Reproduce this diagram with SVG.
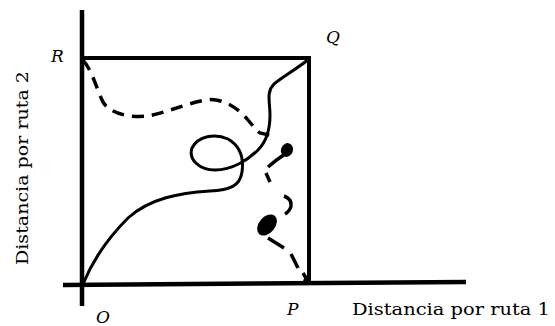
<svg xmlns="http://www.w3.org/2000/svg" width="555" height="326" viewBox="0 0 555 326">
<style>
.ax{stroke:#000;stroke-width:4.5;fill:none;stroke-linecap:butt}
.sq{stroke:#000;stroke-width:4;fill:none;stroke-linejoin:miter}
.sol{stroke:#000;stroke-width:3;fill:none;stroke-linecap:round}
.dsh{stroke:#000;stroke-width:3.5;fill:none;stroke-dasharray:12 8}
.seg{stroke:#000;stroke-width:3.5;fill:none;stroke-linecap:butt}
.lab{font-family:"DejaVu Serif","Liberation Serif",serif;font-style:italic;font-size:17px;fill:#000}
.ttl{font-family:"DejaVu Serif","Liberation Serif",serif;font-size:17px;fill:#000}
</style>
<g id="axes">
<line class="ax" x1="82" y1="10" x2="82" y2="306"/>
<line class="ax" x1="63" y1="285" x2="466" y2="282"/>
</g>
<g id="square">
<polyline class="sq" points="82,58 309,58 309,284"/>
</g>
<g id="connectors">
<path id="route-solid" class="sol" d="M83,284 C92,262 108,238 128,218 C150,198 180,193 210,191 C230,190 240,186 242,172 C244,158 240,146 228,139 C215,133 198,136 192,148 C188,160 200,170 215,170 C232,170 248,160 258,150 C268,140 270,128 270,115 C270,102 266,92 274,84 C284,76 298,68 309,59"/>
<path id="route-dashed" class="dsh" d="M83,60 C93,72 96,88 103,102 C110,114 130,118 148,116 C165,113 185,104 205,100 C222,97 238,108 248,120 C253,126 256,130 260,133 L277,137"/>
<g id="route-dashed-2">
<ellipse cx="287" cy="150" rx="6" ry="7" transform="rotate(20 287 150)" fill="#000"/>
<path class="seg" d="M268,167 Q276,160 285,154" stroke-width="4"/>
<path class="seg" d="M266,173 L270,182"/>
<path class="seg" d="M284,196 Q292,199 291,206 Q290,211 285,214"/>
<ellipse cx="267" cy="225" rx="12" ry="8" transform="rotate(-50 267 225)" fill="#000"/>
<path class="seg" d="M268,238 L284,248"/>
<path class="seg" d="M291,254 L298,268"/>
<path class="seg" d="M303,273 L309,283 M304,279 L309,283"/>
</g>
</g>
<g id="labels">
<text class="lab" x="51" y="62">R</text>
<text class="lab" x="326" y="43">Q</text>
<text class="lab" x="96" y="323">O</text>
<text class="lab" x="287" y="315">P</text>
<text class="ttl" x="352" y="315" textLength="198" lengthAdjust="spacingAndGlyphs">Distancia por ruta 1</text>
<text class="ttl" transform="translate(28,168) rotate(-90)" x="0" y="0" text-anchor="middle" textLength="194" lengthAdjust="spacingAndGlyphs">Distancia por ruta 2</text>
</g>
</svg>
